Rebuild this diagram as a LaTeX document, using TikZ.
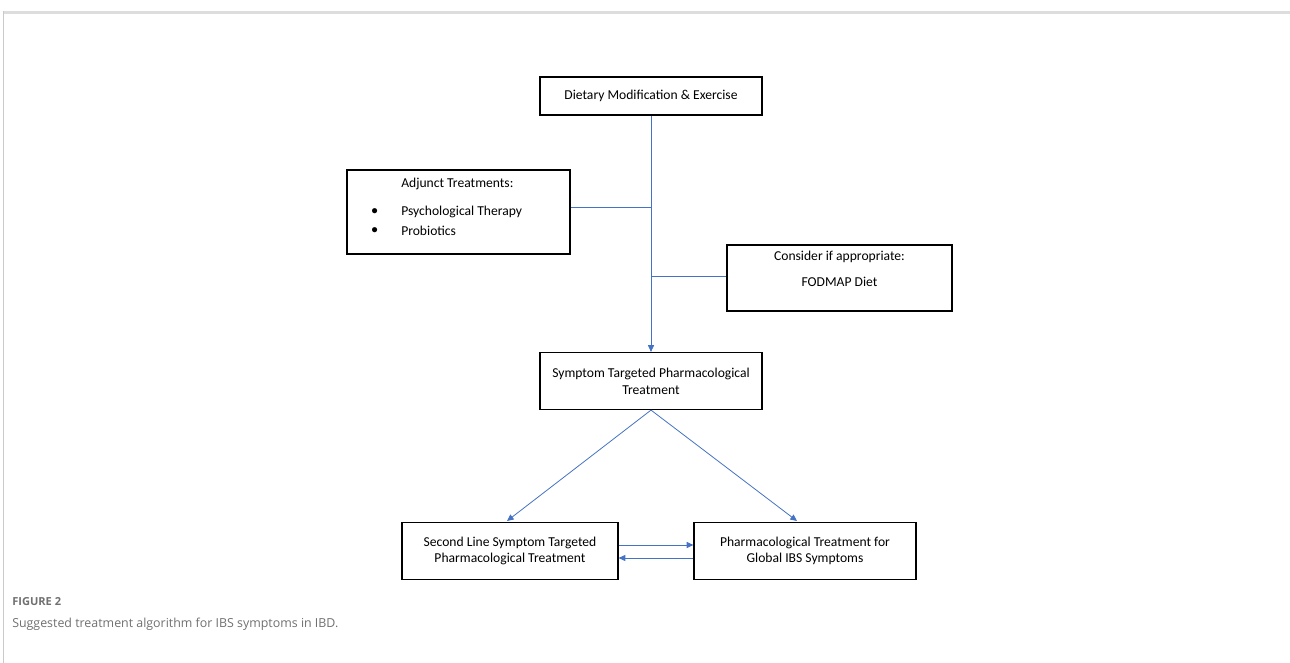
\documentclass[tikz,border=0pt]{standalone}
\usepackage{fontspec}
\setmainfont{Carlito}
\newfontfamily\capfont{Open Sans}
\usetikzlibrary{arrows.meta}
\definecolor{arrowblue}{HTML}{4472C4}
\definecolor{framegray}{HTML}{DDDDDD}
\definecolor{capgray}{HTML}{707070}
\begin{document}
\begin{tikzpicture}[x=0.75pt,y=-0.75pt,
  txt/.style={font=\fontsize{10.2}{12.5}\selectfont},
  box/.style={draw=black,line width=0.9pt,inner sep=0pt,txt,align=center},
  conn/.style={draw=arrowblue,line width=0.6pt},
  arr/.style={conn,-{Triangle[length=5pt,width=4.5pt]}}]
\useasboundingbox (0,0) rectangle (1290,663);
% frame
\fill[framegray] (3,11) rectangle (1290,14);
\draw[framegray!80!gray,line width=0.6pt] (3.5,11) -- (3.5,663);
% boxes
\node[box,minimum width=222*0.75pt,minimum height=38*0.75pt] (diet) at (651,96) {Dietary Modification \& Exercise};
\node[box,minimum width=223*0.75pt,minimum height=84*0.75pt] (adj) at (458.5,212) {};
\node[anchor=west,txt,inner sep=0pt] (adjt) at (401,184) {Adjunct Treatments:};
\node[anchor=west,txt,inner sep=0pt] (b1) at (371,212) {$\bullet$};
\node[anchor=west,txt,inner sep=0pt] (p1) at (401,212) {Psychological Therapy};
\node[anchor=west,txt,inner sep=0pt] (b2) at (371,230.5) {$\bullet$};
\node[anchor=west,txt,inner sep=0pt] (p2) at (401,230.5) {Probiotics};
\node[box,minimum width=225*0.75pt,minimum height=66*0.75pt] (fod) at (839.5,278) {};
\node[txt,inner sep=0pt] (fodt) at (839.5,257) {Consider if appropriate:};
\node[txt,inner sep=0pt] (fodd) at (839.5,282) {FODMAP Diet};
\node[box,minimum width=222*0.75pt,minimum height=57*0.75pt] (sym) at (651,381) {Symptom Targeted Pharmacological\\Treatment};
\node[box,minimum width=216*0.75pt,minimum height=57*0.75pt] (sec) at (510,551) {Second Line Symptom Targeted\\Pharmacological Treatment};
\node[box,minimum width=222*0.75pt,minimum height=57*0.75pt] (glob) at (805,551) {Pharmacological Treatment for\\Global IBS Symptoms};
% connectors
\coordinate (j1) at (651,207);
\coordinate (j2) at (651,276);
\draw[arr] (diet.south) -- (sym.north);
\draw[conn] (adj.east |- j1) -- (j1);
\draw[conn] (j2) -- (fod.west |- j2);
\draw[arr] (sym.south) -- (507,521);
\draw[arr] (sym.south) -- (797,521);
\draw[arr] (sec.east |- 0,545) -- (glob.west |- 0,545);
\draw[arr] (glob.west |- 0,558) -- (sec.east |- 0,558);
% caption
\node[anchor=west,inner sep=0pt,text=capgray,font=\capfont\bfseries\fontsize{8.3}{9}\selectfont] (fig) at (12,602) {FIGURE 2};
\node[anchor=west,inner sep=0pt,text=capgray,font=\capfont\fontsize{9.3}{11}\selectfont] (cap) at (12,624) {Suggested treatment algorithm for IBS symptoms in IBD.};
\end{tikzpicture}
\end{document}
